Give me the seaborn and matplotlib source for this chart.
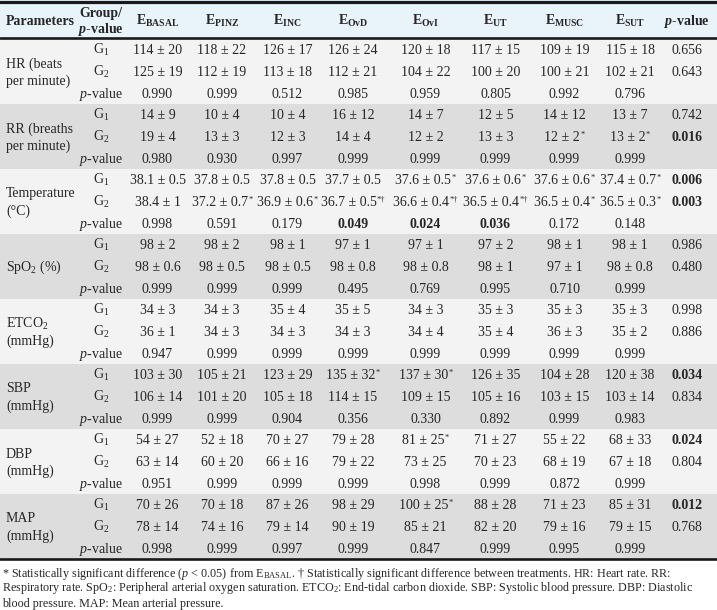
import numpy as np
import matplotlib
matplotlib.use("Agg")
import matplotlib.pyplot as plt
from matplotlib.colors import ListedColormap
import seaborn as sns

sns.set_style("white")
plt.rcParams['font.family'] = ['Liberation Serif', 'DejaVu Serif']
plt.rcParams['mathtext.fontset'] = 'custom'
plt.rcParams['mathtext.rm'] = 'Liberation Serif'
plt.rcParams['mathtext.it'] = 'Liberation Serif:italic'
plt.rcParams['mathtext.bf'] = 'Liberation Serif:bold'
plt.rcParams['mathtext.bfit'] = 'Liberation Serif:italic:bold'

# ---- data (last entry of the G rows is the overall p-value) ----
phases = ["BASAL", "PINZ", "INC", "OvD", "OvI", "UT", "MUSC", "SUT"]
params = ["HR (beats\nper minute)", "RR (breaths\nper minute)", "Temperature\n(°C)",
          "SpO$_2$ (%)", "ETCO$_2$\n(mmHg)", "SBP\n(mmHg)", "DBP\n(mmHg)", "MAP\n(mmHg)"]

hr_g1 = ["114 ± 20", "118 ± 22", "126 ± 17", "126 ± 24", "120 ± 18", "117 ± 15", "109 ± 19", "115 ± 18", "0.656"]
hr_g2 = ["125 ± 19", "112 ± 19", "113 ± 18", "112 ± 21", "104 ± 22", "100 ± 20", "100 ± 21", "102 ± 21", "0.643"]
hr_p = ["0.990", "0.999", "0.512", "0.985", "0.959", "0.805", "0.992", "0.796"]

rr_g1 = ["14 ± 9", "10 ± 4", "10 ± 4", "16 ± 12", "14 ± 7", "12 ± 5", "14 ± 12", "13 ± 7", "0.742"]
rr_g2 = ["19 ± 4", "13 ± 3", "12 ± 3", "14 ± 4", "12 ± 2", "13 ± 3", "12 ± 2*", "13 ± 2*", "0.016"]
rr_p = ["0.980", "0.930", "0.997", "0.999", "0.999", "0.999", "0.999", "0.999"]

temp_g1 = ["38.1 ± 0.5", "37.8 ± 0.5", "37.8 ± 0.5", "37.7 ± 0.5", "37.6 ± 0.5*", "37.6 ± 0.6*", "37.6 ± 0.6*", "37.4 ± 0.7*", "0.006"]
temp_g2 = ["38.4 ± 1", "37.2 ± 0.7*", "36.9 ± 0.6*", "36.7 ± 0.5*†", "36.6 ± 0.4*†", "36.5 ± 0.4*†", "36.5 ± 0.4*", "36.5 ± 0.3*", "0.003"]
temp_p = ["0.998", "0.591", "0.179", "0.049", "0.024", "0.036", "0.172", "0.148"]

spo2_g1 = ["98 ± 2", "98 ± 2", "98 ± 1", "97 ± 1", "97 ± 1", "97 ± 2", "98 ± 1", "98 ± 1", "0.986"]
spo2_g2 = ["98 ± 0.6", "98 ± 0.5", "98 ± 0.5", "98 ± 0.8", "98 ± 0.8", "98 ± 1", "97 ± 1", "98 ± 0.8", "0.480"]
spo2_p = ["0.999", "0.999", "0.999", "0.495", "0.769", "0.995", "0.710", "0.999"]

etco2_g1 = ["34 ± 3", "34 ± 3", "35 ± 4", "35 ± 5", "34 ± 3", "35 ± 3", "35 ± 3", "35 ± 3", "0.998"]
etco2_g2 = ["36 ± 1", "34 ± 3", "34 ± 3", "34 ± 3", "34 ± 4", "35 ± 4", "36 ± 3", "35 ± 2", "0.886"]
etco2_p = ["0.947", "0.999", "0.999", "0.999", "0.999", "0.999", "0.999", "0.999"]

sbp_g1 = ["103 ± 30", "105 ± 21", "123 ± 29", "135 ± 32*", "137 ± 30*", "126 ± 35", "104 ± 28", "120 ± 38", "0.034"]
sbp_g2 = ["106 ± 14", "101 ± 20", "105 ± 18", "114 ± 15", "109 ± 15", "105 ± 16", "103 ± 15", "103 ± 14", "0.834"]
sbp_p = ["0.999", "0.999", "0.904", "0.356", "0.330", "0.892", "0.999", "0.983"]

dbp_g1 = ["54 ± 27", "52 ± 18", "70 ± 27", "79 ± 28", "81 ± 25*", "71 ± 27", "55 ± 22", "68 ± 33", "0.024"]
dbp_g2 = ["63 ± 14", "60 ± 20", "66 ± 16", "79 ± 22", "73 ± 25", "70 ± 23", "68 ± 19", "67 ± 18", "0.804"]
dbp_p = ["0.951", "0.999", "0.999", "0.999", "0.998", "0.999", "0.872", "0.999"]

map_g1 = ["70 ± 26", "70 ± 18", "87 ± 26", "98 ± 29", "100 ± 25*", "88 ± 28", "71 ± 23", "85 ± 31", "0.012"]
map_g2 = ["78 ± 14", "74 ± 16", "79 ± 14", "90 ± 19", "85 ± 21", "82 ± 20", "79 ± 16", "79 ± 15", "0.768"]
map_p = ["0.998", "0.999", "0.997", "0.999", "0.847", "0.999", "0.995", "0.999"]

rows = [(hr_g1, hr_g2, hr_p), (rr_g1, rr_g2, rr_p), (temp_g1, temp_g2, temp_p),
        (spo2_g1, spo2_g2, spo2_p), (etco2_g1, etco2_g2, etco2_p), (sbp_g1, sbp_g2, sbp_p),
        (dbp_g1, dbp_g2, dbp_p), (map_g1, map_g2, map_p)]

footnote = [
    r"* Statistically significant difference ($p$ < 0.05) from E$_{\mathrm{BASAL}}$. † Statistically significant difference between treatments. HR: Heart rate. RR:",
    r"Respiratory rate. SpO$_2$: Peripheral arterial oxygen saturation. ETCO$_2$: End-tidal carbon dioxide. SBP: Systolic blood pressure. DBP: Diastolic",
    "blood pressure. MAP: Mean arterial pressure.",
]

# ---- layout ----
W, H = 717, 610
head_bot, body_bot = 39, 559
band_h = (body_bot - head_bot) / len(params)
sub_h = band_h / 3
col_x = [157.5, 222, 287.5, 353, 425.5, 495.5, 564.5, 630, 687]
grp_x = 101
fs = 10.0
sup_fs = 6.0
base_off = 4.5

light, dark, head_bg = "#F3F3F3", "#DDDDDD", "#E9F3FA"


def split_marks(s):
    marks = ""
    while s and s[-1] in "*†":
        marks = s[-1] + marks
        s = s[:-1]
    return s, marks


def is_sig(s):
    try:
        return float(s) < 0.05
    except ValueError:
        return False


fig = plt.figure(figsize=(W / 100, H / 100), dpi=100)

# shaded bands through seaborn
ax_bg = fig.add_axes([0, (H - body_bot) / H, 1, (body_bot - head_bot) / H])
shade = np.repeat(np.arange(len(params)) % 2, 3).reshape(-1, 1)
sns.heatmap(shade, cmap=ListedColormap([light, dark]), vmin=0, vmax=1, cbar=False,
            xticklabels=False, yticklabels=False, ax=ax_bg)
ax_bg.set_axis_off()

ax = fig.add_axes([0, 0, 1, 1], zorder=2)
ax.set_xlim(0, W)
ax.set_ylim(H, 0)
ax.set_axis_off()
renderer = fig.canvas.get_renderer()


def cell(x, y, s, bold=False):
    main, marks = split_marks(s)
    weight = "bold" if bold else "normal"
    t = ax.text(x, y, main, fontsize=fs, fontweight=weight, ha="left", va="baseline")
    if not marks:
        t.set_ha("center")
        return
    sup = ax.text(x, y - 4, marks, fontsize=sup_fs, ha="left", va="baseline")
    wm = t.get_window_extent(renderer).width
    ws = sup.get_window_extent(renderer).width
    left = x - (wm + ws) / 2
    t.set_x(left)
    sup.set_x(left + wm + 0.3)


ax.axhspan(0, head_bot, color=head_bg, zorder=0)
ax.axhline(1.5, color="#1a1a1a", lw=2.3)
ax.axhline(head_bot - 1, color="#1a1a1a", lw=1.9)
ax.axhline(body_bot, color="#1a1a1a", lw=1.9)

# header
hy = head_bot / 2 + 1
ax.text(6, hy + base_off, "Parameters", fontsize=fs, fontweight="bold", ha="left", va="baseline")
ax.text(grp_x, 12 + base_off, "Group/", fontsize=fs, fontweight="bold", ha="center", va="baseline")
ax.text(grp_x, 29 + base_off, r"$\mathbfit{p}$-value", fontsize=fs, fontweight="bold", ha="center", va="baseline")
for x, ph in zip(col_x, phases):
    ax.text(x, hy + base_off, r"$\mathbf{E}_{\mathbf{" + ph + "}}$", fontsize=fs, ha="center", va="baseline")
ax.text(col_x[-1], hy + base_off, r"$\mathbfit{p}$-value", fontsize=fs, fontweight="bold", ha="center", va="baseline")

# body
for b, (label, (g1, g2, pv)) in enumerate(zip(params, rows)):
    top = head_bot + b * band_h
    mid = top + band_h / 2
    lines = label.split("\n")
    offs = [0] if len(lines) == 1 else [-8.5, 8.5]
    for ln, o in zip(lines, offs):
        ax.text(6, mid + o + base_off, ln, fontsize=fs, ha="left", va="baseline")
    for k, (glab, vals) in enumerate(zip(["G$_1$", "G$_2$", "$p$-value"], [g1, g2, pv])):
        y = top + sub_h * (k + 0.5) + base_off
        ax.text(grp_x, y, glab, fontsize=fs, ha="center", va="baseline")
        for x, v in zip(col_x, vals):
            cell(x, y, v, bold=is_sig(v))

# footnote
for i, ln in enumerate(footnote):
    ax.text(2, 576.5 + i * 15, ln, fontsize=8.7, ha="left", va="baseline")

fig.savefig("out.png", dpi=100)
